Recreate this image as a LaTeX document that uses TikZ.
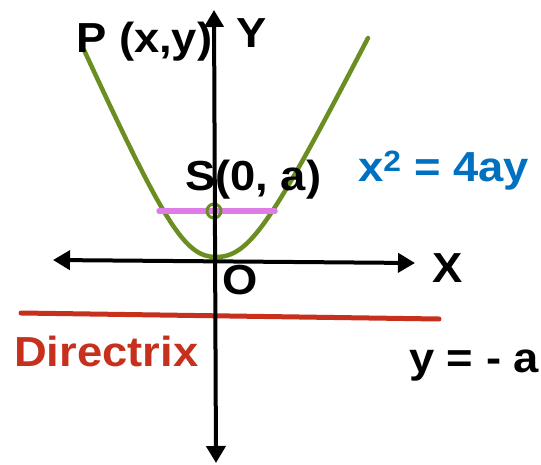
\documentclass[tikz,border=0pt]{standalone}
\usepackage{fontspec}
\setmainfont{Liberation Sans}[FakeStretch=1.08]
\usetikzlibrary{arrows.meta,positioning}
\definecolor{curvegreen}{RGB}{107,142,35}
\definecolor{latuspink}{RGB}{222,125,232}
\definecolor{dirred}{RGB}{200,48,30}
\definecolor{eqblue}{RGB}{0,112,192}

\begin{document}
\begin{tikzpicture}[
  x=1pt, y=-1pt,
  axis/.style={line width=4pt, {Triangle[length=17pt,width=19pt]}-{Triangle[length=17pt,width=19pt]}},
  lbl/.style={font=\fontsize{42}{48}\bfseries\selectfont, inner sep=0pt, anchor=base west},
  curve/.style={line width=4.5pt, draw=curvegreen, line cap=round}
]
\useasboundingbox (0,0) rectangle (541,464);

% end points
\coordinate (ptop) at (84,50);
\coordinate (vertex) at (216,257);
\coordinate (qtop) at (368,38);
\coordinate (xleft) at (53,260);
\coordinate (xright) at (415,263);
\coordinate (ytop) at (214,10);
\coordinate (ybot) at (216,463);
\coordinate (lrleft) at (159,211);
\coordinate (lrright) at (275,211);
\coordinate (dleft) at (21,313);
\coordinate (dright) at (439,319);

% curve, latus rectum, focus, directrix
\draw[curve] (ptop) .. controls (165,225) and (185,257) .. (vertex)
  .. controls (250,257) and (272,222) .. (qtop);
\draw[line width=5.5pt, latuspink, line cap=round] (lrleft) -- (lrright);
\node[circle, draw=curvegreen, line width=3pt, minimum size=14pt, inner sep=0pt] (focus) at (214,211) {};
\draw[line width=5pt, dirred, line cap=round] (dleft) -- (dright);

% axes
\draw[axis] (xleft) -- (xright);
\draw[axis] (ybot) -- (ytop);

% labels
\node[lbl] (plabel) at (76,52) {P (x,y)};
\node[lbl] (ylabel) at (236,47) {Y};
\node[lbl] (slabel) at (185,190) {S(0, a)};
\node[lbl, text=eqblue] (eqlabel) at (358,181) {x\textsuperscript{2} = 4ay};
\node[lbl] (xlabel) at (432,282) {X};
\node[lbl] (olabel) at (222,294) {O};
\node[lbl, text=dirred] (dlabel) at (14,366) {Directrix};
\node[lbl] (dirlabel) at (409,372) {y = - a};
\end{tikzpicture}
\end{document}
